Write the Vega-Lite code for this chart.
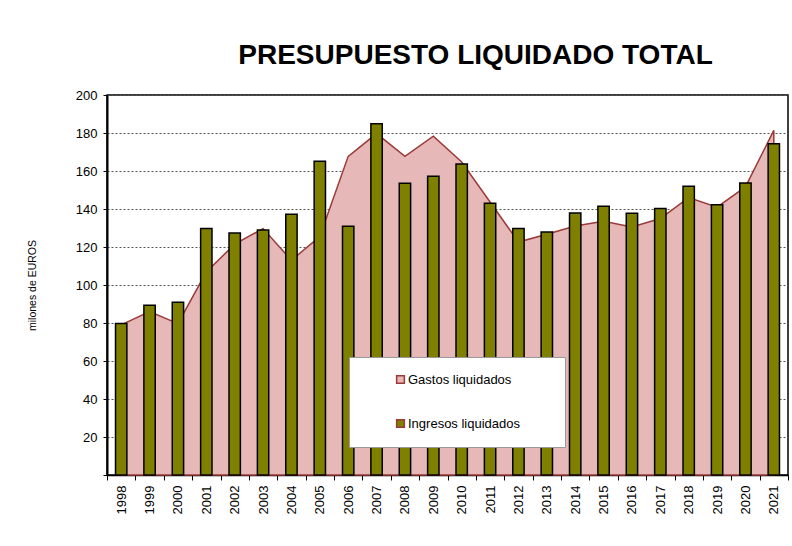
{
  "$schema": "https://vega.github.io/schema/vega-lite/v6.json",
  "width": 681,
  "height": 380,
  "autosize": {"type": "none"},
  "padding": {"left": 107, "top": 95, "right": 4, "bottom": 71},
  "background": "white",
  "title": {
    "text": "PRESUPUESTO LIQUIDADO TOTAL",
    "fontSize": 28,
    "font": "Liberation Sans",
    "fontWeight": "bold",
    "color": "black",
    "anchor": "middle",
    "dx": 28,
    "offset": 19
  },
  "config": {
    "font": "Liberation Sans",
    "view": {"stroke": "black", "strokeWidth": 1.5},
    "axis": {"labelColor": "black", "labelFontSize": 13, "tickColor": "black", "domainColor": "black"}
  },
  "data": {
    "values": [
      {"year": "1998", "gastos": 79, "ingresos": 79.7},
      {"year": "1999", "gastos": 86, "ingresos": 89.3},
      {"year": "2000", "gastos": 79.7, "ingresos": 90.9},
      {"year": "2001", "gastos": 106.8, "ingresos": 129.7},
      {"year": "2002", "gastos": 121.5, "ingresos": 127.4},
      {"year": "2003", "gastos": 129.7, "ingresos": 129},
      {"year": "2004", "gastos": 113, "ingresos": 137.2},
      {"year": "2005", "gastos": 125.5, "ingresos": 165.1},
      {"year": "2006", "gastos": 167.7, "ingresos": 130.9},
      {"year": "2007", "gastos": 179.7, "ingresos": 184.9},
      {"year": "2008", "gastos": 167.7, "ingresos": 153.5},
      {"year": "2009", "gastos": 178.3, "ingresos": 157.2},
      {"year": "2010", "gastos": 164.7, "ingresos": 163.7},
      {"year": "2011", "gastos": 143.7, "ingresos": 143},
      {"year": "2012", "gastos": 122.6, "ingresos": 129.7},
      {"year": "2013", "gastos": 126.7, "ingresos": 127.9},
      {"year": "2014", "gastos": 131, "ingresos": 137.9},
      {"year": "2015", "gastos": 133.5, "ingresos": 141.4},
      {"year": "2016", "gastos": 130.5, "ingresos": 137.7},
      {"year": "2017", "gastos": 135, "ingresos": 140.2},
      {"year": "2018", "gastos": 146, "ingresos": 152},
      {"year": "2019", "gastos": 141, "ingresos": 142.3},
      {"year": "2020", "gastos": 151.6, "ingresos": 153.7},
      {"year": "2021", "gastos": 181.4, "ingresos": 174.4}
    ]
  },
  "encoding": {
    "x": {
      "field": "year",
      "type": "ordinal",
      "scale": {"paddingInner": 0, "paddingOuter": 0},
      "axis": {
        "title": null,
        "labelAngle": -90,
        "labelPadding": 5,
        "tickSize": 5,
        "tickBand": "extent",
        "domainWidth": 1.5
      }
    }
  },
  "layer": [
    {
      "mark": {"type": "area", "stroke": "#9b3a38", "strokeWidth": 1.5, "opacity": 1},
      "encoding": {
        "y": {
          "field": "gastos",
          "type": "quantitative",
          "scale": {"domain": [0, 200]},
          "axis": {
            "title": "milones de EUROS",
            "titleFontSize": 10.5,
            "titleFontWeight": "normal",
            "titleColor": "black",
            "titlePadding": 38,
            "tickCount": 10,
            "tickSize": 4,
            "labelPadding": 6,
            "labelExpr": "datum.value == 0 ? '' : datum.label",
            "domainWidth": 2,
            "grid": true,
            "gridColor": "#555555",
            "gridDash": [2, 2],
            "gridWidth": 1
          }
        },
        "color": {
          "datum": "Gastos liquidados",
          "scale": {"domain": ["Gastos liquidados", "Ingresos liquidados"], "range": ["#e6b8b7", "#808000"]},
          "legend": {
            "title": null,
            "orient": "none",
            "legendX": 242,
            "legendY": 262,
            "fillColor": "white",
            "strokeColor": "#999999",
            "padding": 16,
            "symbolOffset": 29,
            "symbolType": "square",
            "symbolSize": 60,
            "labelFontSize": 13,
            "labelColor": "black",
            "labelOffset": 1,
            "labelLimit": 300,
            "rowPadding": 29,
            "labelExpr": "datum.label + '        \u200b'",
            "encode": {
              "symbols": {
                "update": {
                  "stroke": {"signal": "datum.value === 'Gastos liquidados' ? '#d08080' : '#000000'"},
                  "strokeWidth": {"value": 1.5}
                }
              }
            }
          }
        }
      }
    },
    {
      "mark": {"type": "bar", "width": {"band": 0.4}, "stroke": "black", "strokeWidth": 1.5},
      "encoding": {
        "y": {"field": "ingresos", "type": "quantitative"},
        "color": {"datum": "Ingresos liquidados"}
      }
    }
  ]
}
